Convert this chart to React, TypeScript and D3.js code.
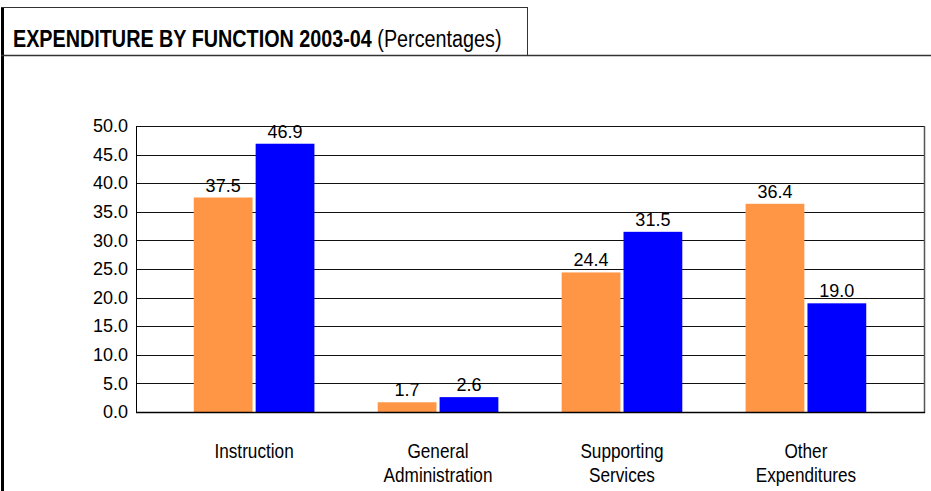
import React, { useEffect, useRef } from "react";
import * as d3 from "d3";

const categories = [
  ["Instruction"],
  ["General", "Administration"],
  ["Supporting", "Services"],
  ["Other", "Expenditures"],
];
const seriesA = [37.5, 1.7, 24.4, 36.4];
const seriesB = [46.9, 2.6, 31.5, 19.0];
const yTicks = [0, 5, 10, 15, 20, 25, 30, 35, 40, 45, 50];

const App: React.FC = () => {
  const svgRef = useRef<SVGSVGElement | null>(null);

  useEffect(() => {
    const width = 931;
    const height = 491;
    const margin = { top: 126, right: 7, bottom: 79, left: 136 };
    const sans = "'Liberation Sans', Arial, sans-serif";
    // no narrow font installed, so squeeze the regular one
    const sx = 0.86;

    const svg = d3.select(svgRef.current).attr("width", width).attr("height", height);
    svg.selectAll("*").remove();

    const keys = categories.map((c) => c.join(" "));
    const x0 = d3
      .scaleBand()
      .domain(keys)
      .range([margin.left, width - margin.right])
      .paddingInner(0.344)
      .paddingOuter(0.314);
    const x1 = d3
      .scaleBand()
      .domain(["a", "b"])
      .range([0, x0.bandwidth()])
      .paddingInner(0.05);
    const y = d3
      .scaleLinear()
      .domain([0, 50])
      .range([height - margin.bottom, margin.top]);

    // Frame
    svg.append("line").attr("x1", 2.5).attr("x2", 2.5).attr("y1", 7).attr("y2", height)
      .attr("stroke", "#000").attr("stroke-width", 3);
    svg.append("line").attr("x1", 1).attr("x2", 527).attr("y1", 7.5).attr("y2", 7.5)
      .attr("stroke", "#333").attr("stroke-width", 1);
    svg.append("line").attr("x1", 527.5).attr("x2", 527.5).attr("y1", 7).attr("y2", 55)
      .attr("stroke", "#333").attr("stroke-width", 1);
    svg.append("line").attr("x1", 1).attr("x2", width).attr("y1", 55.5).attr("y2", 55.5)
      .attr("stroke", "#333").attr("stroke-width", 1.5);

    // Title
    const title = svg.append("text").attr("x", 13 / sx).attr("y", 47)
      .attr("transform", `scale(${sx},1)`)
      .style("font-family", sans).style("font-size", "23px").style("fill", "#000");
    title.append("tspan").style("font-weight", "bold").text("EXPENDITURE BY FUNCTION 2003-04");
    title.append("tspan").text(" (Percentages)");

    // Gridlines
    svg.append("g").selectAll("line").data(yTicks).enter().append("line")
      .attr("x1", margin.left).attr("x2", width - margin.right)
      .attr("y1", (d) => Math.round(y(d)) + 0.5).attr("y2", (d) => Math.round(y(d)) + 0.5)
      .attr("stroke", "#111").attr("stroke-width", 1);

    // Y axis
    const yAxis = svg.append("g")
      .attr("transform", `translate(${margin.left},0)`)
      .call(d3.axisLeft(y).tickValues(yTicks).tickSize(0).tickPadding(8).tickFormat((d) => d3.format(".1f")(d as number)));
    yAxis.select(".domain").remove();
    yAxis.selectAll("text").style("font-size", "18px").style("font-family", sans).style("fill", "#000");

    // Bars
    const groups = svg.append("g").selectAll("g").data(keys).enter().append("g")
      .attr("transform", (d) => `translate(${x0(d)},0)`);
    const rows = (i: number) => [
      { key: "a", v: seriesA[i], color: "#FF9645" },
      { key: "b", v: seriesB[i], color: "#0000FF" },
    ];
    groups.each(function (_, i) {
      const g = d3.select(this);
      const r = rows(i);
      g.selectAll("rect").data(r).enter().append("rect")
        .attr("x", (d) => x1(d.key)!)
        .attr("width", x1.bandwidth())
        .attr("y", (d) => y(d.v))
        .attr("height", (d) => y(0) - y(d.v))
        .attr("fill", (d) => d.color);
      g.selectAll("text.val").data(r).enter().append("text")
        .attr("class", "val")
        .attr("x", (d) => x1(d.key)! + x1.bandwidth() / 2)
        .attr("y", (d) => y(d.v) - 6)
        .attr("text-anchor", "middle")
        .style("font-size", "18px").style("font-family", sans).style("fill", "#000")
        .text((d) => d3.format(".1f")(d.v));
    });

    // Plot border
    svg.append("line").attr("x1", margin.left + 0.5).attr("x2", margin.left + 0.5)
      .attr("y1", y(50)).attr("y2", y(0) + 1).attr("stroke", "#000");
    svg.append("line").attr("x1", width - margin.right + 0.5).attr("x2", width - margin.right + 0.5)
      .attr("y1", y(50)).attr("y2", y(0) + 1).attr("stroke", "#555").attr("stroke-width", 1.5);
    svg.append("line").attr("x1", margin.left).attr("x2", width - margin.right + 1)
      .attr("y1", Math.round(y(0)) + 0.5).attr("y2", Math.round(y(0)) + 0.5)
      .attr("stroke", "#000").attr("stroke-width", 1.5);

    // Category labels
    const cl = svg.append("g").attr("transform", `scale(${sx},1)`)
      .selectAll("text").data(categories).enter().append("text")
      .attr("x", (d) => (x0(d.join(" "))! + x0.bandwidth() / 2) / sx)
      .attr("y", 458)
      .attr("text-anchor", "middle")
      .style("font-family", sans).style("font-size", "20px").style("fill", "#000");
    cl.selectAll("tspan").data((d) => d).enter().append("tspan")
      .attr("x", function () {
        return (this.parentNode as SVGTextElement).getAttribute("x");
      })
      .attr("dy", (_, i) => (i === 0 ? 0 : 24))
      .text((d) => d);
  }, []);

  return <svg ref={svgRef} style={{ position: "absolute", left: 0, top: 0 }}></svg>;
};

export default App;
